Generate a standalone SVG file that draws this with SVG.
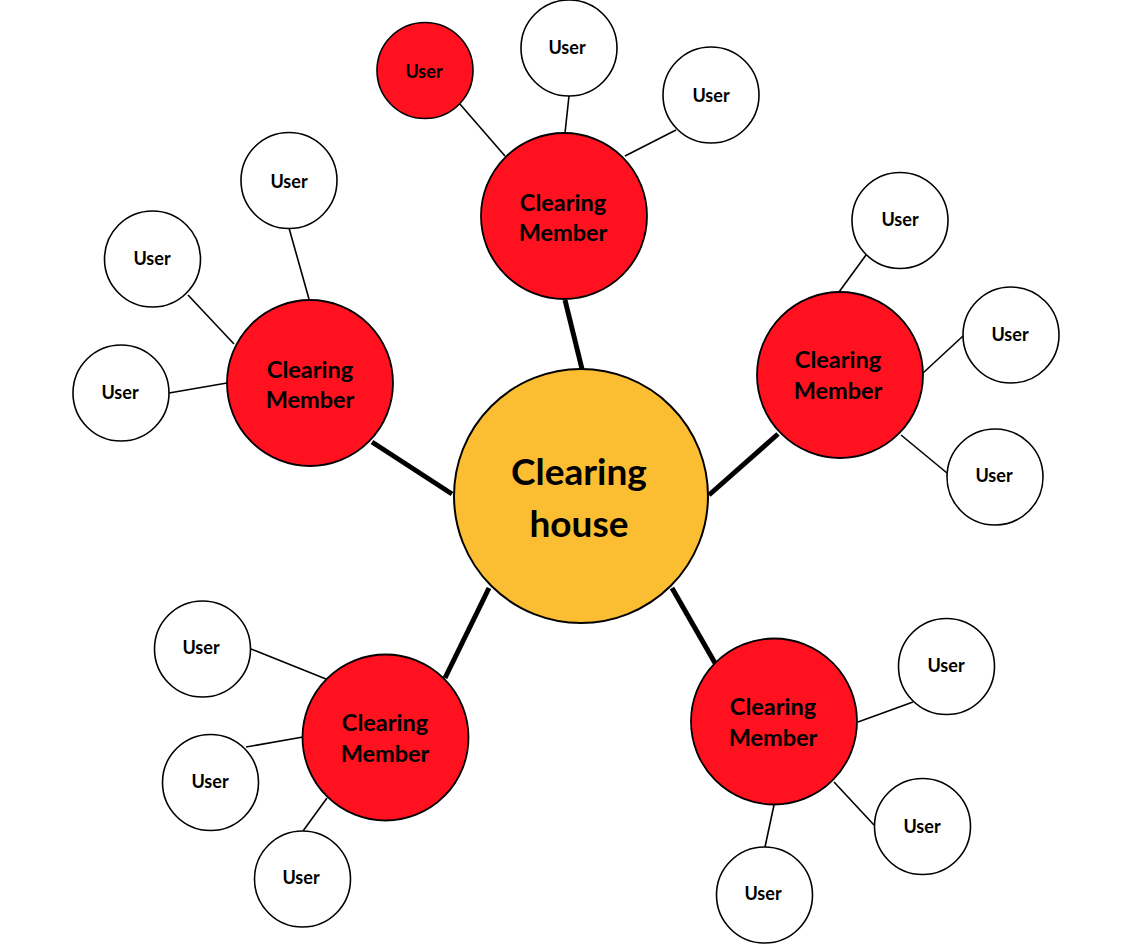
<svg xmlns="http://www.w3.org/2000/svg" width="1132" height="952" viewBox="0 0 1132 952">
<style>
.thick{stroke:#000;stroke-width:5;fill:none}
.thin{stroke:#000;stroke-width:1.6;fill:none}
.ch{fill:#FBBD31;stroke:#000;stroke-width:2}
.cm{fill:#FF111F;stroke:#000;stroke-width:1.8}
.u{fill:#FFFFFF;stroke:#000;stroke-width:1.6}
.ur{fill:#FF111F;stroke:#000;stroke-width:1.6}
text{font-family:Lato,"Open Sans","Liberation Sans",sans-serif;font-weight:bold;fill:#000;text-anchor:middle}
.tu{font-size:18px}
.tm{font-size:23.5px}
.th{font-size:37px}
</style>
<rect width="1132" height="952" fill="#FFFFFF"/>
<g id="connectors">
<line class="thick" x1="565" y1="300" x2="582" y2="369"/>
<line class="thick" x1="372" y1="442" x2="452" y2="494"/>
<line class="thick" x1="778" y1="434" x2="709" y2="495"/>
<line class="thick" x1="445" y1="678" x2="489" y2="588"/>
<line class="thick" x1="715" y1="663" x2="672" y2="588"/>
<line class="thin" x1="459" y1="103" x2="505" y2="156"/>
<line class="thin" x1="569" y1="96" x2="565" y2="133"/>
<line class="thin" x1="676" y1="130" x2="625" y2="156"/>
<line class="thin" x1="289" y1="228" x2="309" y2="299"/>
<line class="thin" x1="188" y1="295" x2="234" y2="344"/>
<line class="thin" x1="169" y1="393" x2="227" y2="383"/>
<line class="thin" x1="866" y1="255" x2="839" y2="292"/>
<line class="thin" x1="963" y1="336" x2="923" y2="373"/>
<line class="thin" x1="947" y1="473" x2="901" y2="435"/>
<line class="thin" x1="251" y1="649" x2="326" y2="679"/>
<line class="thin" x1="246" y1="747" x2="303" y2="737"/>
<line class="thin" x1="303" y1="831" x2="327" y2="798"/>
<line class="thin" x1="913" y1="702" x2="858" y2="722"/>
<line class="thin" x1="874" y1="825" x2="834" y2="782"/>
<line class="thin" x1="765" y1="847" x2="774" y2="805"/>
</g>
<g id="clearing-house">
<circle class="ch" cx="581" cy="496" r="127"/>
<text class="th" x="579" y="485">Clearing</text>
<text class="th" x="579" y="537">house</text>
</g>
<g id="cm-top">
<circle class="cm" cx="564" cy="216" r="83"/>
<text class="tm" x="563" y="211">Clearing</text>
<text class="tm" x="563" y="241">Member</text>
</g>
<g id="cm-left">
<circle class="cm" cx="310" cy="383" r="83"/>
<text class="tm" x="310" y="378">Clearing</text>
<text class="tm" x="310" y="408">Member</text>
</g>
<g id="cm-right">
<circle class="cm" cx="840" cy="375" r="83"/>
<text class="tm" x="838" y="368">Clearing</text>
<text class="tm" x="838" y="399">Member</text>
</g>
<g id="cm-bottom-left">
<circle class="cm" cx="385.5" cy="737.5" r="83"/>
<text class="tm" x="385" y="731">Clearing</text>
<text class="tm" x="385" y="762">Member</text>
</g>
<g id="cm-bottom-right">
<circle class="cm" cx="774" cy="721.5" r="83"/>
<text class="tm" x="773" y="715">Clearing</text>
<text class="tm" x="773" y="746">Member</text>
</g>
<g id="user-t1"><circle class="ur" cx="425" cy="70.5" r="48"/><text class="tu" x="424" y="78">User</text></g>
<g id="user-t2"><circle class="u" cx="569" cy="48" r="48"/><text class="tu" x="567" y="54">User</text></g>
<g id="user-t3"><circle class="u" cx="711" cy="95" r="48"/><text class="tu" x="711" y="102">User</text></g>
<g id="user-l1"><circle class="u" cx="289" cy="180.5" r="48"/><text class="tu" x="289" y="188">User</text></g>
<g id="user-l2"><circle class="u" cx="152.5" cy="259" r="48"/><text class="tu" x="152" y="265">User</text></g>
<g id="user-l3"><circle class="u" cx="121" cy="393" r="48"/><text class="tu" x="120" y="399">User</text></g>
<g id="user-r1"><circle class="u" cx="900" cy="220.5" r="48"/><text class="tu" x="900" y="226">User</text></g>
<g id="user-r2"><circle class="u" cx="1011" cy="335" r="48"/><text class="tu" x="1010" y="341">User</text></g>
<g id="user-r3"><circle class="u" cx="995" cy="477" r="48"/><text class="tu" x="994" y="482">User</text></g>
<g id="user-bl1"><circle class="u" cx="202.5" cy="649" r="48"/><text class="tu" x="201" y="654">User</text></g>
<g id="user-bl2"><circle class="u" cx="210.5" cy="782.5" r="48"/><text class="tu" x="210" y="788">User</text></g>
<g id="user-bl3"><circle class="u" cx="302.5" cy="879" r="48"/><text class="tu" x="301" y="884">User</text></g>
<g id="user-br1"><circle class="u" cx="946.5" cy="666.5" r="48"/><text class="tu" x="946" y="672">User</text></g>
<g id="user-br2"><circle class="u" cx="922.5" cy="826.5" r="48"/><text class="tu" x="922" y="833">User</text></g>
<g id="user-br3"><circle class="u" cx="764.5" cy="895" r="48"/><text class="tu" x="763" y="900">User</text></g>
</svg>
